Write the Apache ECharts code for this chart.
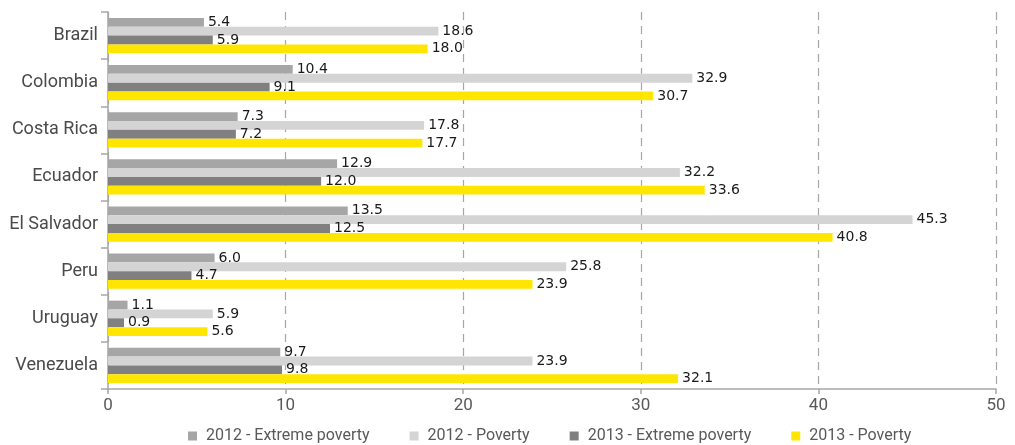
<!DOCTYPE html>
<html><head><meta charset="utf-8">
<script src="https://cdn.jsdelivr.net/npm/echarts@6/dist/echarts.min.js"></script>
<style>html,body{margin:0;padding:0;background:#fff}#c{width:1015px;height:445px}</style>
</head><body><div id="c"></div>
<script>
const categories = ["Brazil","Colombia","Costa Rica","Ecuador","El Salvador","Peru","Uruguay","Venezuela"];
const seriesNames = ["2012 - Extreme poverty","2012 - Poverty","2013 - Extreme poverty","2013 - Poverty"];
const extreme2012 = [5.4, 10.4, 7.3, 12.9, 13.5, 6.0, 1.1, 9.7];
const poverty2012 = [18.6, 32.9, 17.8, 32.2, 45.3, 25.8, 5.9, 23.9];
const extreme2013 = [5.9, 9.1, 7.2, 12.0, 12.5, 4.7, 0.9, 9.8];
const poverty2013 = [18.0, 30.7, 17.7, 33.6, 40.8, 23.9, 5.6, 32.1];
const colors = ["#a6a6a6","#d4d4d4","#808080","#ffe600"];
const allData = [extreme2012, poverty2012, extreme2013, poverty2013];

const chart = echarts.init(document.getElementById('c'), null, {renderer:'canvas'});
chart.setOption({
  animation: false,
  color: colors,
  grid: {left: 108, right: 19, top: 12, bottom: 56},
  legend: {
    top: 423, left: 183,
    itemWidth: 9, itemHeight: 9, itemGap: 40,
    icon: 'rect',
    textStyle: {fontFamily: 'Roboto', fontSize: 16, color: '#595959', padding:[0,0,0,4]},
    data: seriesNames
  },
  xAxis: {
    type: 'value', min: 0, max: 50, interval: 10,
    axisLine: {show: true, lineStyle: {color: '#a6a6a6', width: 1.5}},
    axisTick: {show: true, length: 5, lineStyle: {color: '#a6a6a6', width: 1.5}},
    axisLabel: {fontFamily: 'Roboto', fontSize: 17, color: '#595959', margin: 8},
    splitLine: {show: true, lineStyle: {color: '#a6a6a6', type: [8,6], width: 1.2}}
  },
  yAxis: {
    type: 'category', data: categories, inverse: true,
    axisLine: {show: true, lineStyle: {color: '#a6a6a6', width: 1.5}},
    axisTick: {show: true, length: 7, lineStyle: {color: '#a6a6a6', width: 1.5}},
    axisLabel: {fontFamily: 'Roboto', fontSize: 18, color: '#4a4a4a', margin: 10}
  },
  series: seriesNames.map((n, i) => ({
    name: n, type: 'bar', data: allData[i],
    barGap: '0%', barCategoryGap: '25%',
    itemStyle: {color: colors[i]},
    label: {show: true, position: 'right', distance: 4, fontFamily: 'DejaVu Sans', fontSize: 14, color: '#1a1a1a',
      formatter: p => p.value.toFixed(1)}
  }))
});
</script></body></html>
